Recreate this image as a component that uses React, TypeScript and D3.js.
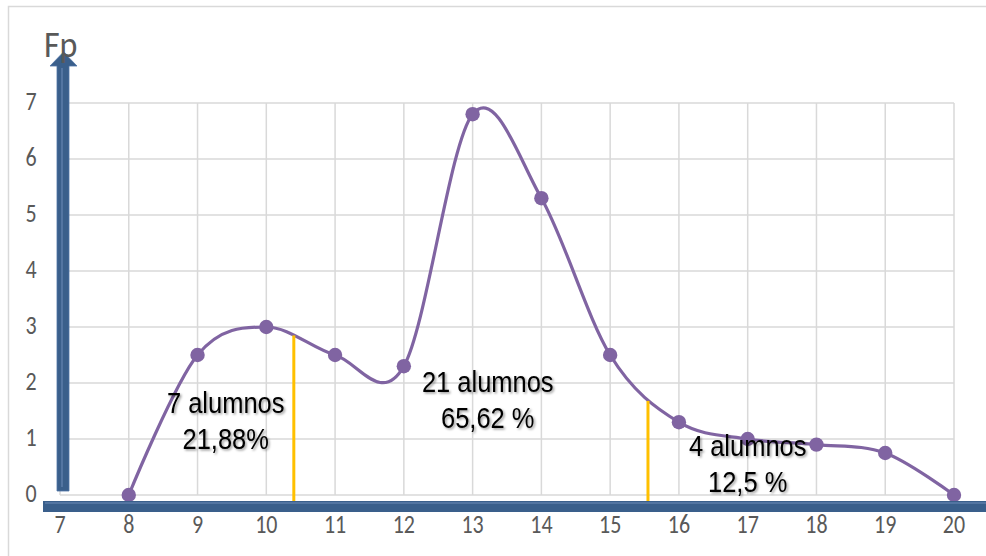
import React from "react";
import * as d3 from "d3";

// Frequency per score
const scores = [8, 9, 10, 11, 12, 13, 14, 15, 16, 17, 18, 19, 20];
const freq = [0, 2.5, 3, 2.5, 2.3, 6.8, 5.3, 2.5, 1.3, 1.0, 0.9, 0.75, 0];

const xTicks = [7, 8, 9, 10, 11, 12, 13, 14, 15, 16, 17, 18, 19, 20];
const yTicks = [0, 1, 2, 3, 4, 5, 6, 7];

// Cut points splitting the distribution into groups
const cutX = [10.4, 15.55];
const cutY = [2.85, 1.68];

// Group annotations: centre x, baseline y (data units), two lines of text
const groupX = [9.41, 13.22, 17.0];
const groupY = [1.46, 1.84, 0.7];
const groupLine1 = ["7 alumnos", "21 alumnos", "4 alumnos"];
const groupLine2 = ["21,88%", "65,62 %", "12,5 %"];

const W = 986;
const H = 556;

export default function App() {
  const x = d3.scaleLinear().domain([7, 20]).range([60, 954]);
  const y = d3.scaleLinear().domain([0, 7]).range([495, 103]);

  const pts = scores.map((s, i) => [s, freq[i]] as [number, number]);
  const line = d3
    .line<[number, number]>()
    .x((d) => x(d[0]))
    .y((d) => y(d[1]))
    .curve(d3.curveCardinal.tension(0));

  const grid = "#d9d9d9";
  const tickColor = "#595959";
  const blue = "#3a5f8b";
  const purple = "#8064a2";
  const tickFont = "Carlito, Lato, 'Open Sans', sans-serif";
  const annFont = "'Liberation Sans', Arial, sans-serif";
  const tickStretch = 1.2;
  const annStretch = 1.13;

  const x0 = x(7);
  const yBase = y(0);

  return (
    <svg
      width={W}
      height={H}
      style={{ position: "absolute", left: 0, top: 0, background: "#fff" }}
    >
      <defs>
        <filter id="txtShadow" x="-20%" y="-30%" width="140%" height="170%">
          <feDropShadow dx="1.5" dy="1.5" stdDeviation="1.3" floodColor="#000" floodOpacity="0.4" />
        </filter>
      </defs>

      {/* chart frame */}
      <rect x={8.5} y={6.5} width={1000} height={600} fill="#fff" stroke={grid} strokeWidth={1.5} />

      {/* gridlines */}
      {yTicks.map((t) => (
        <line key={"gy" + t} x1={x0} x2={x(20)} y1={y(t)} y2={y(t)} stroke={grid} strokeWidth={1.5} />
      ))}
      {xTicks.map((t) => (
        <line key={"gx" + t} x1={x(t)} x2={x(t)} y1={y(7)} y2={yBase} stroke={grid} strokeWidth={1.5} />
      ))}

      {/* y tick labels */}
      {yTicks.map((t) => (
        <text
          key={"ty" + t}
          transform={`translate(31,${y(t) + 1}) scale(1,${tickStretch})`}
          textAnchor="middle"
          dominantBaseline="middle"
          fontFamily={tickFont}
          fontSize={22}
          fill={tickColor}
        >
          {t}
        </text>
      ))}

      {/* x tick labels */}
      {xTicks.map((t) => (
        <text
          key={"tx" + t}
          transform={`translate(${x(t)},527) scale(1,${tickStretch})`}
          textAnchor="middle"
          dominantBaseline="middle"
          fontFamily={tickFont}
          fontSize={22}
          fill={tickColor}
        >
          {t}
        </text>
      ))}

      {/* frequency curve */}
      <path d={line(pts) || ""} fill="none" stroke={purple} strokeWidth={3.2} />
      {pts.map((p, i) => (
        <circle key={"pt" + i} cx={x(p[0])} cy={y(p[1])} r={7.2} fill={purple} />
      ))}

      {/* group separators */}
      {cutX.map((c, i) => (
        <line
          key={"cut" + i}
          x1={x(c)}
          x2={x(c)}
          y1={y(cutY[i])}
          y2={yBase + 10}
          stroke="#ffc000"
          strokeWidth={3}
        />
      ))}

      {/* group annotations */}
      {groupX.map((g, i) => (
        <g key={"ann" + i} filter="url(#txtShadow)" fontFamily={annFont} fontSize={25.5} fill="#000" textAnchor="middle">
          <text transform={`translate(${x(g)},${y(groupY[i])}) scale(1,${annStretch})`}>{groupLine1[i]}</text>
          <text transform={`translate(${x(g)},${y(groupY[i]) + 36}) scale(1,${annStretch})`}>{groupLine2[i]}</text>
        </g>
      ))}

      {/* horizontal axis bar */}
      <rect x={43} y={501} width={W} height={11} fill={blue} />
      <line x1={45} x2={W} y1={503} y2={503} stroke="#6d8cb8" strokeWidth={1} />

      {/* vertical axis arrow */}
      <path
        d={`M57,491 L57,66 L50,66 L63.5,52 L77,66 L69,66 L69,491 Z`}
        fill={blue}
        stroke="#4f74a6"
        strokeWidth={0.8}
      />
      <line x1={62} x2={62} y1={68} y2={487} stroke="#6d8cb8" strokeWidth={1} />

      {/* axis title */}
      <text transform="translate(44,57) scale(1,1.1)" fontFamily={tickFont} fontSize={34} fill={tickColor}>
        Fp
      </text>
    </svg>
  );
}
